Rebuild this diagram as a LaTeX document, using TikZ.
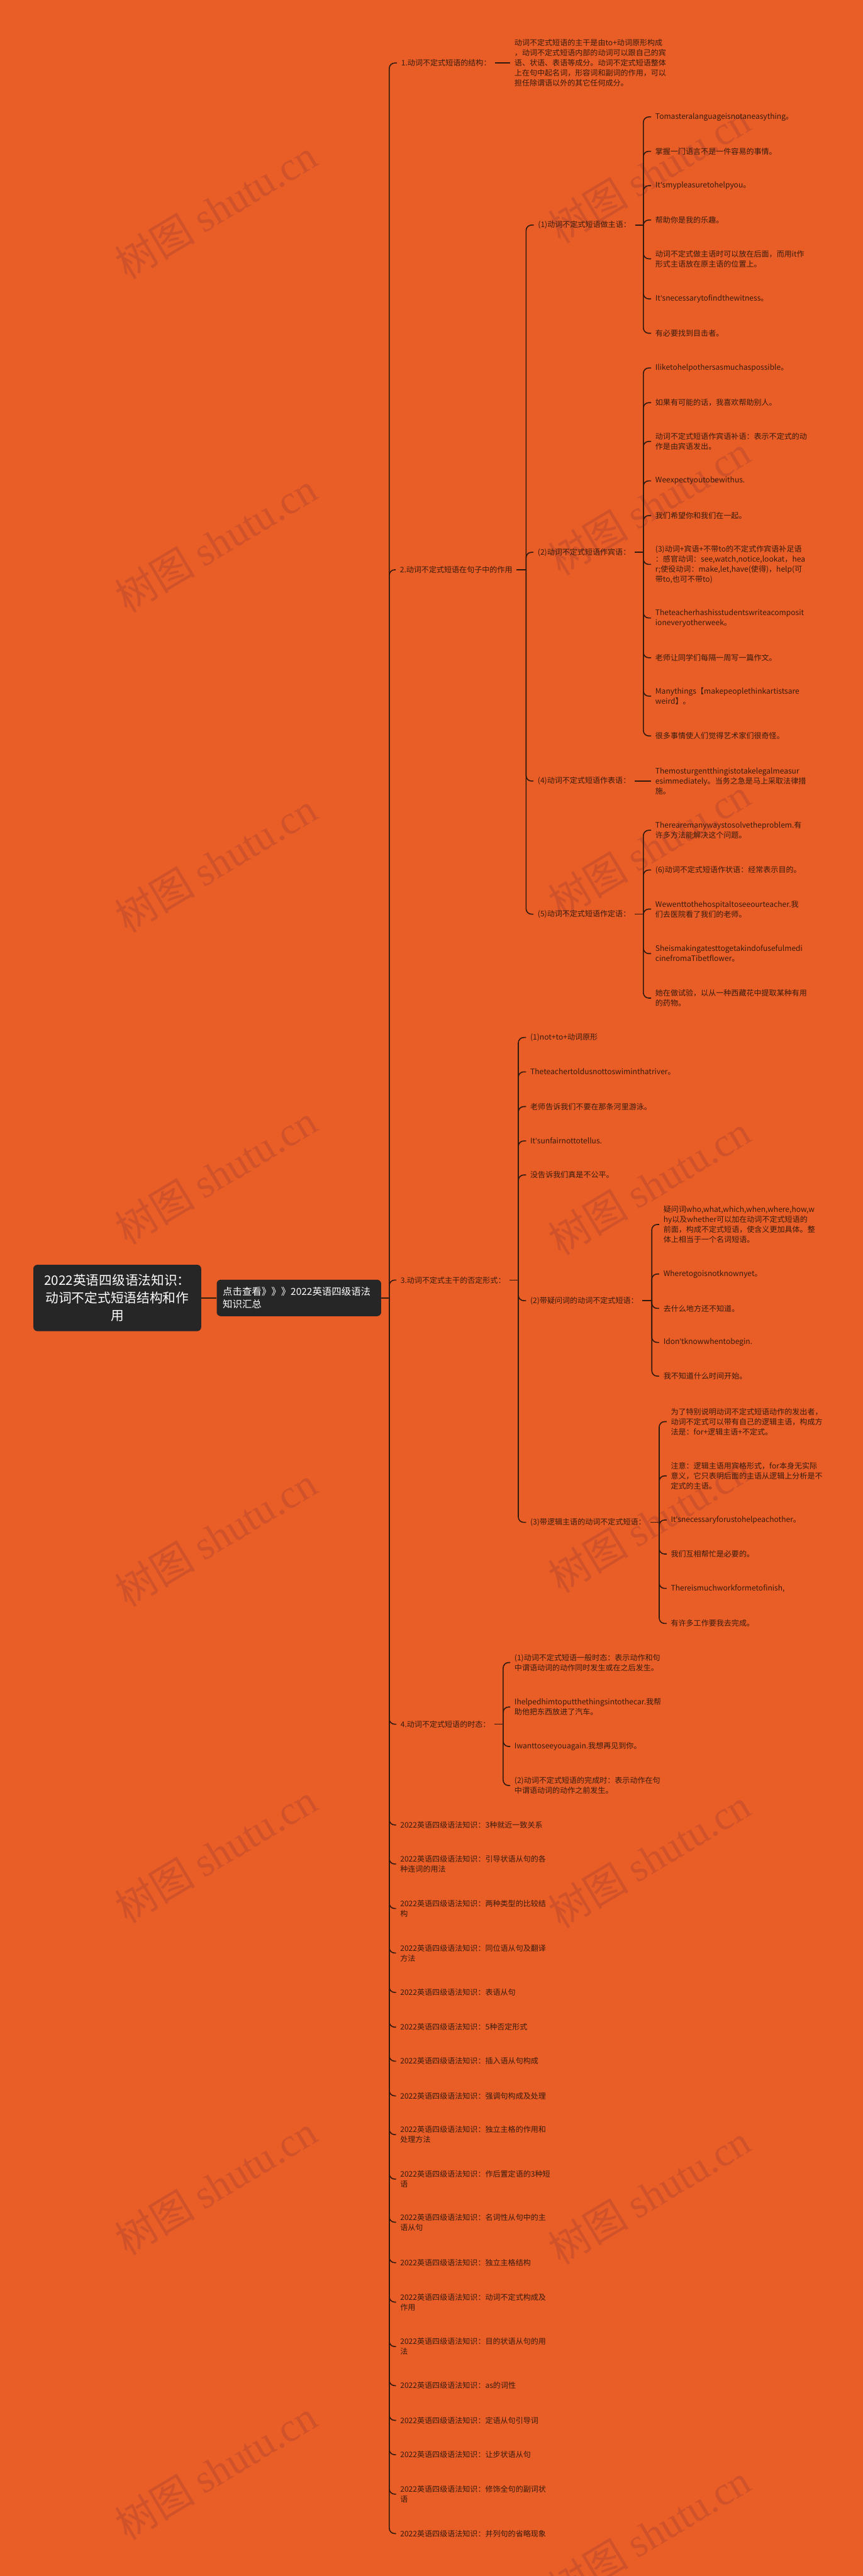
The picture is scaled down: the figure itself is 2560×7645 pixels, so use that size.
\documentclass[tikz,border=0pt]{standalone}
\usepackage{fontspec}
\setmainfont{Noto Sans CJK SC}
\newfontfamily\wmlatin{Liberation Serif}
\newfontfamily\apfont{Noto Sans}
\newcommand\myap{{\apfont '}}
\definecolor{bg}{RGB}{233,93,39}
\definecolor{txt}{RGB}{58,28,12}
\definecolor{ln}{RGB}{48,26,14}
\definecolor{dark}{RGB}{38,38,38}
\definecolor{wm}{RGB}{207,82,42}
\begin{document}
\begin{tikzpicture}[x=0.1mm,y=-0.1mm,
  base/.style={text=txt, inner xsep=1.2mm, inner ysep=0.4mm, align=left, anchor=west, font=\fontsize{6.4}{8.5}\selectfont},
  leaf/.style={base},
  sect/.style={base},
  item/.style={base},
  link/.style={draw=ln, line width=0.3mm, rounded corners=1.6mm},
  mainlink/.style={draw=ln, line width=0.45mm},
  rootbox/.style={fill=dark, text=white, rounded corners=1.2mm, align=center, inner sep=0pt, minimum width=49.8mm, minimum height=19.7mm, font=\fontsize{11}{15}\selectfont},
  midbox/.style={fill=dark, text=white, rounded corners=1.2mm, align=left, inner sep=0pt, minimum width=48.8mm, minimum height=10.8mm, font=\fontsize{8.2}{10.8}\selectfont},
  wmk/.style={text=wm, rotate=31, font=\fontsize{34}{34}\selectfont, inner sep=0pt}
]
\fill[bg] (0,0) rectangle (2560,7645);
\useasboundingbox (0,0) rectangle (2560,7645);

% watermarks
\foreach \yy [count=\i] in {515,1500,2516,3517,4520,5515,6513,7520}{
  \node[wmk] (wr\i) at (1927,\yy) {树图 {\wmlatin shutu.cn}};
}
\foreach \yy [count=\i] in {620,1610,2560,3486,4560,5500,6485,7330}{
  \node[wmk] (wl\i) at (640,\yy) {树图 {\wmlatin shutu.cn}};
}

% root and middle
\node[rootbox] (root) at (348,3852) {2022英语四级语法知识：\\动词不定式短语结构和作\\用};
\node[midbox] (mid) at (887,3852) {\hspace*{1.2mm}\parbox{46.4mm}{点击查看》》》2022英语四级语法\\知识汇总}};
\coordinate (sp) at (1155,3852);

% section 1
\node[sect] (s1) at (1178,187) {1.动词不定式短语的结构：};
\node[leaf] (s1d) at (1514,187) {动词不定式短语的主干是由to+动词原形构成\\，动词不定式短语内部的动词可以跟自己的宾\\语、状语、表语等成分。动词不定式短语整体\\上在句中起名词，形容词和副词的作用，可以\\担任除谓语以外的其它任何成分。};

% section 2
\node[sect] (s2) at (1174,1691) {2.动词不定式短语在句子中的作用};
\coordinate (s2t) at (1561,1691);
\node[sect] (s2a) at (1584,668) {(1)动词不定式短语做主语：};
\coordinate (s2at) at (1909,668);
\node[leaf] (s2a1) at (1932,347) {Tomasteralanguageisnotaneasything。};
\node[leaf] (s2a2) at (1932,449) {掌握一门语言不是一件容易的事情。};
\node[leaf] (s2a3) at (1932,551) {It\myap smypleasuretohelpyou。};
\node[leaf] (s2a4) at (1932,653) {帮助你是我的乐趣。};
\node[leaf] (s2a5) at (1932,768) {动词不定式做主语时可以放在后面，而用it作\\形式主语放在原主语的位置上。};
\node[leaf] (s2a6) at (1932,887) {It\myap snecessarytofindthewitness。};
\node[leaf] (s2a7) at (1932,989) {有必要找到目击者。};

\node[sect] (s2b) at (1583,1639) {(2)动词不定式短语作宾语：};
\coordinate (s2bt) at (1909,1639);
\node[leaf] (s2b1) at (1932,1092) {Iliketohelpothersasmuchaspossible。};
\node[leaf] (s2b2) at (1932,1195) {如果有可能的话，我喜欢帮助别人。};
\node[leaf] (s2b3) at (1932,1310) {动词不定式短语作宾语补语：表示不定式的动\\作是由宾语发出。};
\node[leaf] (s2b4) at (1932,1427) {Weexpectyoutobewithus.};
\node[leaf] (s2b5) at (1932,1530) {我们希望你和我们在一起。};
\node[leaf] (s2b6) at (1932,1675) {(3)动词+宾语+不带to的不定式作宾语补足语\\：感官动词：see,watch,notice,lookat，hea\\r;使役动词：make,let,have(使得)，help(可\\带to,也可不带to)};
\node[leaf] (s2b7) at (1932,1834) {Theteacherhashisstudentswriteacomposit\\ioneveryotherweek。};
\node[leaf] (s2b8) at (1932,1952) {老师让同学们每隔一周写一篇作文。};
\node[leaf] (s2b9) at (1932,2066) {Manythings【makepeoplethinkartistsare\\weird】。};
\node[leaf] (s2b10) at (1932,2184) {很多事情使人们觉得艺术家们很奇怪。};

\node[sect] (s2c) at (1583,2318) {(4)动词不定式短语作表语：};
\node[leaf] (s2c1) at (1932,2318) {Themosturgentthingistotakelegalmeasur\\esimmediately。当务之急是马上采取法律措\\施。};

\node[sect] (s2d) at (1583,2713) {(5)动词不定式短语作定语：};
\coordinate (s2dt) at (1909,2713);
\node[leaf] (s2d1) at (1932,2464) {Therearemanywaystosolvetheproblem.有\\许多方法能解决这个问题。};
\node[leaf] (s2d2) at (1932,2582) {(6)动词不定式短语作状语：经常表示目的。};
\node[leaf] (s2d3) at (1932,2698) {Wewenttothehospitaltoseeourteacher.我\\们去医院看了我们的老师。};
\node[leaf] (s2d4) at (1932,2830) {Sheismakingatesttogetakindofusefulmedi\\cinefromaTibetflower。};
\node[leaf] (s2d5) at (1932,2962) {她在做试验，以从一种西藏花中提取某种有用\\的药物。};

% section 3
\node[sect] (s3) at (1176,3799) {3.动词不定式主干的否定形式：};
\coordinate (s3t) at (1538,3799);
\node[leaf] (s3a1) at (1561,3079) {(1)not+to+动词原形};
\node[leaf] (s3a2) at (1561,3181) {Theteachertoldusnottoswiminthatriver。};
\node[leaf] (s3a3) at (1561,3284) {老师告诉我们不要在那条河里游泳。};
\node[leaf] (s3a4) at (1561,3386) {It\myap sunfairnottotellus.};
\node[leaf] (s3a5) at (1561,3487) {没告诉我们真是不公平。};

\node[sect] (s3b) at (1561,3860) {(2)带疑问词的动词不定式短语：};
\coordinate (s3bt) at (1934,3860);
\node[leaf] (s3b1) at (1956,3634) {疑问词who,what,which,when,where,how,w\\hy以及whether可以加在动词不定式短语的\\前面，构成不定式短语，使含义更加具体。整\\体上相当于一个名词短语。};
\node[leaf] (s3b2) at (1956,3781) {Wheretogoisnotknownyet。};
\node[leaf] (s3b3) at (1956,3883) {去什么地方还不知道。};
\node[leaf] (s3b4) at (1956,3984) {Idon\myap tknowwhentobegin.};
\node[leaf] (s3b5) at (1956,4084) {我不知道什么时间开始。};

\node[sect] (s3c) at (1561,4518) {(3)带逻辑主语的动词不定式短语：};
\coordinate (s3ct) at (1956,4518);
\node[leaf] (s3c1) at (1978,4219) {为了特别说明动词不定式短语动作的发出者，\\动词不定式可以带有自己的逻辑主语，构成方\\法是：for+逻辑主语+不定式。};
\node[leaf] (s3c2) at (1978,4380) {注意：逻辑主语用宾格形式，for本身无实际\\意义，它只表明后面的主语从逻辑上分析是不\\定式的主语。};
\node[leaf] (s3c3) at (1978,4511) {It\myap snecessaryforustohelpeachother。};
\node[leaf] (s3c4) at (1978,4612) {我们互相帮忙是必要的。};
\node[leaf] (s3c5) at (1978,4714) {Thereismuchworkformetofinish,};
\node[leaf] (s3c6) at (1978,4818) {有许多工作要我去完成。};

% section 4
\node[sect] (s4) at (1176,5117) {4.动词不定式短语的时态：};
\coordinate (s4t) at (1493,5117);
\node[leaf] (s4a1) at (1514,4934) {(1)动词不定式短语一般时态：表示动作和句\\中谓语动词的动作同时发生或在之后发生。};
\node[leaf] (s4a2) at (1514,5066) {Ihelpedhimtoputthethingsintothecar.我帮\\助他把东西放进了汽车。};
\node[leaf] (s4a3) at (1514,5183) {Iwanttoseeyouagain.我想再见到你。};
\node[leaf] (s4a4) at (1514,5299) {(2)动词不定式短语的完成时：表示动作在句\\中谓语动词的动作之前发生。};

% bottom items
\node[item] (b1) at (1175,5416) {2022英语四级语法知识：3种就近一致关系};
\node[item] (b2) at (1175,5532) {2022英语四级语法知识：引导状语从句的各\\种连词的用法};
\node[item] (b3) at (1175,5664) {2022英语四级语法知识：两种类型的比较结\\构};
\node[item] (b4) at (1175,5796) {2022英语四级语法知识：同位语从句及翻译\\方法};
\node[item] (b5) at (1175,5913) {2022英语四级语法知识：表语从句};
\node[item] (b6) at (1175,6016) {2022英语四级语法知识：5种否定形式};
\node[item] (b7) at (1175,6117) {2022英语四级语法知识：插入语从句构成};
\node[item] (b8) at (1175,6220) {2022英语四级语法知识：强调句构成及处理};
\node[item] (b9) at (1175,6335) {2022英语四级语法知识：独立主格的作用和\\处理方法};
\node[item] (b10) at (1175,6467) {2022英语四级语法知识：作后置定语的3种短\\语};
\node[item] (b11) at (1175,6595) {2022英语四级语法知识：名词性从句中的主\\语从句};
\node[item] (b12) at (1175,6715) {2022英语四级语法知识：独立主格结构};
\node[item] (b13) at (1175,6832) {2022英语四级语法知识：动词不定式构成及\\作用};
\node[item] (b14) at (1175,6964) {2022英语四级语法知识：目的状语从句的用\\法};
\node[item] (b15) at (1175,7080) {2022英语四级语法知识：as的词性};
\node[item] (b16) at (1175,7183) {2022英语四级语法知识：定语从句引导词};
\node[item] (b17) at (1175,7285) {2022英语四级语法知识：让步状语从句};
\node[item] (b18) at (1175,7402) {2022英语四级语法知识：修饰全句的副词状\\语};
\node[item] (b19) at (1175,7519) {2022英语四级语法知识：并列句的省略现象};

% connectors
\draw[mainlink] (root.east) -- (mid.west);
\draw[mainlink] (mid.east) -- (sp);
\foreach \c in {s1,s2,s3,s4,b1,b2,b3,b4,b5,b6,b7,b8,b9,b10,b11,b12,b13,b14,b15,b16,b17,b18,b19}{
  \draw[link] (sp) |- (\c.west);
}
\draw[link] (s1.east) -- (s1d.west);

\draw[link] (s2.east) -- (s2t);
\foreach \c in {s2a,s2b,s2c,s2d}{ \draw[link] (s2t) |- (\c.west); }
\draw[link] (s2a.east) -- (s2at);
\foreach \c in {s2a1,s2a2,s2a3,s2a4,s2a5,s2a6,s2a7}{ \draw[link] (s2at) |- (\c.west); }
\draw[link] (s2b.east) -- (s2bt);
\foreach \c in {s2b1,s2b2,s2b3,s2b4,s2b5,s2b6,s2b7,s2b8,s2b9,s2b10}{ \draw[link] (s2bt) |- (\c.west); }
\draw[link] (s2c.east) -- (s2c1.west);
\draw[link] (s2d.east) -- (s2dt);
\foreach \c in {s2d1,s2d2,s2d3,s2d4,s2d5}{ \draw[link] (s2dt) |- (\c.west); }

\draw[link] (s3.east) -- (s3t);
\foreach \c in {s3a1,s3a2,s3a3,s3a4,s3a5,s3b,s3c}{ \draw[link] (s3t) |- (\c.west); }
\draw[link] (s3b.east) -- (s3bt);
\foreach \c in {s3b1,s3b2,s3b3,s3b4,s3b5}{ \draw[link] (s3bt) |- (\c.west); }
\draw[link] (s3c.east) -- (s3ct);
\foreach \c in {s3c1,s3c2,s3c3,s3c4,s3c5,s3c6}{ \draw[link] (s3ct) |- (\c.west); }

\draw[link] (s4.east) -- (s4t);
\foreach \c in {s4a1,s4a2,s4a3,s4a4}{ \draw[link] (s4t) |- (\c.west); }
\end{tikzpicture}
\end{document}
